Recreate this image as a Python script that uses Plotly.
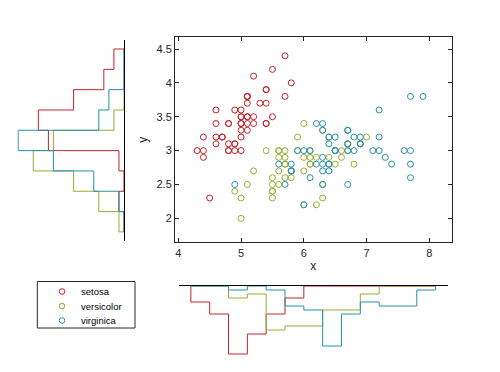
import numpy as np
import plotly.graph_objects as go

# ---------------- data (Fisher iris: sepal length = x, sepal width = y) -------------
species = ["setosa", "versicolor", "virginica"]
setosa_x = [5.1,4.9,4.7,4.6,5.0,5.4,4.6,5.0,4.4,4.9,5.4,4.8,4.8,4.3,5.8,5.7,5.4,5.1,5.7,5.1,
            5.4,5.1,4.6,5.1,4.8,5.0,5.0,5.2,5.2,4.7,4.8,5.4,5.2,5.5,4.9,5.0,5.5,4.9,4.4,5.1,
            5.0,4.5,4.4,5.0,5.1,4.8,5.1,4.6,5.3,5.0]
setosa_y = [3.5,3.0,3.2,3.1,3.6,3.9,3.4,3.4,2.9,3.1,3.7,3.4,3.0,3.0,4.0,4.4,3.9,3.5,3.8,3.8,
            3.4,3.7,3.6,3.3,3.4,3.0,3.4,3.5,3.4,3.2,3.1,3.4,4.1,4.2,3.1,3.2,3.5,3.6,3.0,3.4,
            3.5,2.3,3.2,3.5,3.8,3.0,3.8,3.2,3.7,3.3]
versicolor_x = [7.0,6.4,6.9,5.5,6.5,5.7,6.3,4.9,6.6,5.2,5.0,5.9,6.0,6.1,5.6,6.7,5.6,5.8,6.2,5.6,
                5.9,6.1,6.3,6.1,6.4,6.6,6.8,6.7,6.0,5.7,5.5,5.5,5.8,6.0,5.4,6.0,6.7,6.3,5.6,5.5,
                5.5,6.1,5.8,5.0,5.6,5.7,5.7,6.2,5.1,5.7]
versicolor_y = [3.2,3.2,3.1,2.3,2.8,2.8,3.3,2.4,2.9,2.7,2.0,3.0,2.2,2.9,2.9,3.1,3.0,2.7,2.2,2.5,
                3.2,2.8,2.5,2.8,2.9,3.0,2.8,3.0,2.9,2.6,2.4,2.4,2.7,2.7,3.0,3.4,3.1,2.3,3.0,2.5,
                2.6,3.0,2.6,2.3,2.7,3.0,2.9,2.9,2.5,2.8]
virginica_x = [6.3,5.8,7.1,6.3,6.5,7.6,4.9,7.3,6.7,7.2,6.5,6.4,6.8,5.7,5.8,6.4,6.5,7.7,7.7,6.0,
               6.9,5.6,7.7,6.3,6.7,7.2,6.2,6.1,6.4,7.2,7.4,7.9,6.4,6.3,6.1,7.7,6.3,6.4,6.0,6.9,
               6.7,6.9,5.8,6.8,6.7,6.7,6.3,6.5,6.2,5.9]
virginica_y = [3.3,2.7,3.0,2.9,3.0,3.0,2.5,2.9,2.5,3.6,3.2,2.7,3.0,2.5,2.8,3.2,3.0,3.8,2.6,2.2,
               3.2,2.8,2.8,2.7,3.3,3.2,2.8,3.0,2.8,3.0,2.8,3.8,2.8,2.8,2.6,3.0,3.4,3.1,3.0,3.1,
               3.1,3.1,2.7,3.2,3.3,3.0,2.5,3.0,3.4,3.0]

x_edges = [4.2,4.5,4.8,5.1,5.4,5.7,6.0,6.3,6.6,6.9,7.2,7.5,7.8,8.1]
y_edges = [1.8,2.1,2.4,2.7,3.0,3.3,3.6,3.9,4.2,4.5]

x_ticks = [4, 5, 6, 7, 8]
y_ticks = [2, 2.5, 3, 3.5, 4, 4.5]

xs = [setosa_x, versicolor_x, virginica_x]
ys = [setosa_y, versicolor_y, virginica_y]
colors = ["#C42229", "#98AD33", "#2591A8"]

FONT = "Liberation Sans, Arial, sans-serif"
AXC = "#262626"
W, H = 500, 372


def stairs(edges, counts):
    e = list(edges)
    pos, cnt = [e[0]], [0]
    for i, c in enumerate(counts):
        pos += [e[i], e[i + 1]]
        cnt += [c, c]
    pos.append(e[-1])
    cnt.append(0)
    return pos, cnt


fig = go.Figure()

for name, x, y, c in zip(species, xs, ys, colors):
    fig.add_trace(go.Scatter(
        x=x, y=y, mode="markers", name=name, showlegend=False,
        marker=dict(symbol="circle-open", size=6, color=c, line=dict(width=1, color=c)),
        xaxis="x", yaxis="y"))

for name, x, y, c in zip(species, xs, ys, colors):
    cx, _ = np.histogram(np.array(x), bins=np.array(x_edges))
    px, pc = stairs(x_edges, cx.tolist())
    fig.add_trace(go.Scatter(x=px, y=pc, mode="lines", line=dict(color=c, width=1),
                             showlegend=False, xaxis="x2", yaxis="y2", hoverinfo="skip"))
    cy, _ = np.histogram(np.array(y), bins=np.array(y_edges))
    py, pc2 = stairs(y_edges, cy.tolist())
    fig.add_trace(go.Scatter(x=pc2, y=py, mode="lines", line=dict(color=c, width=1),
                             showlegend=False, xaxis="x3", yaxis="y3", hoverinfo="skip"))


def dx(a, b):
    return [a / W, b / W]


def dy(top, bottom):
    return [(H - bottom) / H, (H - top) / H]


axis_common = dict(showgrid=False, zeroline=False, showline=True, linecolor=AXC, linewidth=1,
                   ticks="inside", ticklen=4, tickcolor=AXC, mirror="ticks",
                   tickfont=dict(family=FONT, size=11, color=AXC))

# ---- legend drawn as a boxed key (layout only) ----
shapes = [dict(type="rect", xref="paper", yref="paper",
               x0=37.3 / W, x1=135 / W, y0=(H - 328) / H, y1=(H - 281.5) / H,
               line=dict(color=AXC, width=1), fillcolor="white", layer="above")]
annotations = []
item_y = [291.5, 306, 320.5]
for name, c, yy in zip(species, colors, item_y):
    r = 2.8
    shapes.append(dict(type="circle", xref="paper", yref="paper",
                       x0=(62 - r) / W, x1=(62 + r) / W,
                       y0=(H - yy - r) / H, y1=(H - yy + r) / H,
                       line=dict(color=c, width=1), layer="above"))
    annotations.append(dict(text=name, xref="paper", yref="paper",
                            x=79 / W, y=(H - yy) / H, xanchor="left", yanchor="middle",
                            showarrow=False, font=dict(family=FONT, size=9.5, color="black")))

fig.update_layout(
    width=W, height=H, margin=dict(l=0, r=0, t=0, b=0),
    paper_bgcolor="white", plot_bgcolor="white",
    font=dict(family=FONT, color=AXC),
    xaxis=dict(domain=dx(175, 451.7), range=[3.947, 8.357], tickvals=x_ticks, anchor="y",
               title=dict(text="x", font=dict(family=FONT, size=12, color=AXC), standoff=4),
               **axis_common),
    yaxis=dict(domain=dy(37.3, 242.3), range=[1.646, 4.673], tickvals=y_ticks, anchor="x",
               title=dict(text="y", font=dict(family=FONT, size=12, color=AXC), standoff=6),
               **axis_common),
    xaxis2=dict(domain=dx(179, 448.3), range=[4.011, 8.302], anchor="y2", side="top",
                showline=True, linecolor="black", linewidth=1, showticklabels=False,
                ticks="", showgrid=False, zeroline=False),
    yaxis2=dict(domain=dy(286, 362), range=[19, 0], anchor="x2", visible=False),
    xaxis3=dict(domain=dx(17.3, 124), range=[21.17, 0], anchor="y3", visible=False),
    yaxis3=dict(domain=dy(40, 240.7), range=[1.670, 4.633], anchor="x3", side="right",
                showline=True, linecolor="black", linewidth=1, showticklabels=False,
                ticks="", showgrid=False, zeroline=False),
    shapes=shapes,
    annotations=annotations,
    showlegend=False,
)

fig.write_html("out.html")
